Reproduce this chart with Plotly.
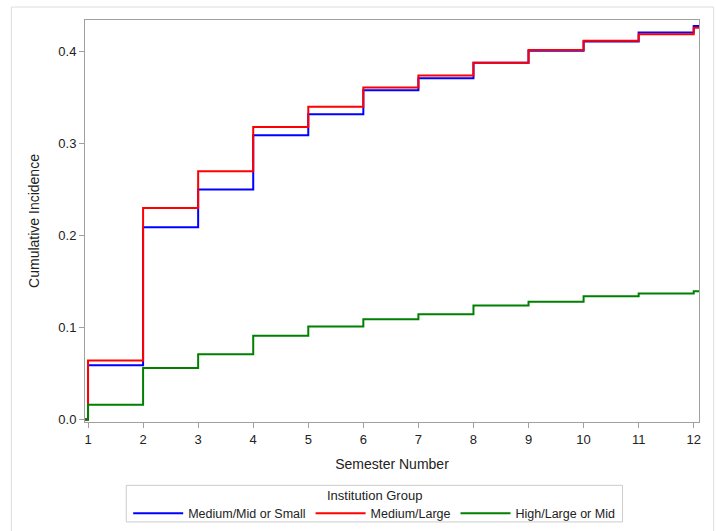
import plotly.graph_objects as go

semesters = [0, 1, 2, 3, 4, 5, 6, 7, 8, 9, 10, 11, 12]
end_time = 12.2

group_names = ["Medium/Mid or Small", "Medium/Large", "High/Large or Mid"]
group_colors = ["#0000FF", "#FF0000", "#008000"]
legend_title = "Institution Group"

cif_medium_mid_small = [0.0, 0.059, 0.209, 0.250, 0.309, 0.332, 0.358, 0.371, 0.388, 0.401, 0.411, 0.421, 0.428]
cif_medium_large = [0.0, 0.064, 0.230, 0.270, 0.318, 0.340, 0.361, 0.374, 0.388, 0.402, 0.412, 0.419, 0.426]
cif_high_large_mid = [0.0, 0.016, 0.056, 0.071, 0.091, 0.101, 0.109, 0.1145, 0.124, 0.128, 0.134, 0.137, 0.1395]

x_ticks = [1, 2, 3, 4, 5, 6, 7, 8, 9, 10, 11, 12]
y_ticks = [0.0, 0.1, 0.2, 0.3, 0.4]

series = [cif_medium_mid_small, cif_medium_large, cif_high_large_mid]

FONT = "Liberation Sans, Arial, sans-serif"
TXT = "#222222"
fig = go.Figure()
for name, color, vals in zip(group_names, group_colors, series):
    xs = semesters + [end_time]
    ys = vals + [vals[-1]]
    fig.add_trace(go.Scatter(
        x=xs, y=ys, mode="lines", name=name,
        line=dict(color=color, width=2, shape="hv"),
    ))

axis_common = dict(
    showgrid=False, zeroline=False, showline=True, linecolor="#A0A0A0", linewidth=1,
    mirror=True, ticks="outside", ticklen=5, tickcolor="#A0A0A0",
    tickfont=dict(family=FONT, size=13, color=TXT),
)

fig.update_layout(
    width=716, height=531,
    margin=dict(l=85, r=17, t=20, b=109, autoexpand=False),
    paper_bgcolor="white", plot_bgcolor="white",
    font=dict(family=FONT, size=12, color=TXT),
    xaxis=dict(range=[0.945, 12.096], tickvals=x_ticks,
               title=dict(text="Semester Number", font=dict(family=FONT, size=14, color=TXT), standoff=13),
               **axis_common),
    yaxis=dict(range=[-0.0028, 0.4345], tickvals=y_ticks, tickformat=".1f",
               title=dict(text="Cumulative Incidence", font=dict(family=FONT, size=14, color=TXT), standoff=15),
               **axis_common),
    showlegend=True,
    legend=dict(
        orientation="h", x=0.471, xanchor="center", y=-0.228, yanchor="middle",
        borderwidth=0, bgcolor="rgba(0,0,0,0)",
        font=dict(family=FONT, size=12.5, color=TXT),
        tracegroupgap=0, itemwidth=50,
    ),
    annotations=[dict(text=legend_title, xref="paper", yref="paper", x=0.471, y=-0.183,
                      xanchor="center", yanchor="middle", showarrow=False,
                      font=dict(family=FONT, size=13, color=TXT))],
    shapes=[
        dict(type="rect", xref="paper", yref="paper",
             x0=-0.1199, x1=1.0239, y0=-0.35, y1=1.0323,
             line=dict(color="#DDDDDD", width=1), fillcolor="rgba(0,0,0,0)", layer="below"),
        dict(type="rect", xref="paper", yref="paper",
             x0=0.0672, x1=0.8754, y0=-0.2486, y1=-0.1576,
             line=dict(color="#CCCCCC", width=1), fillcolor="rgba(0,0,0,0)", layer="below"),
    ],
)

fig.write_html("out.html")
